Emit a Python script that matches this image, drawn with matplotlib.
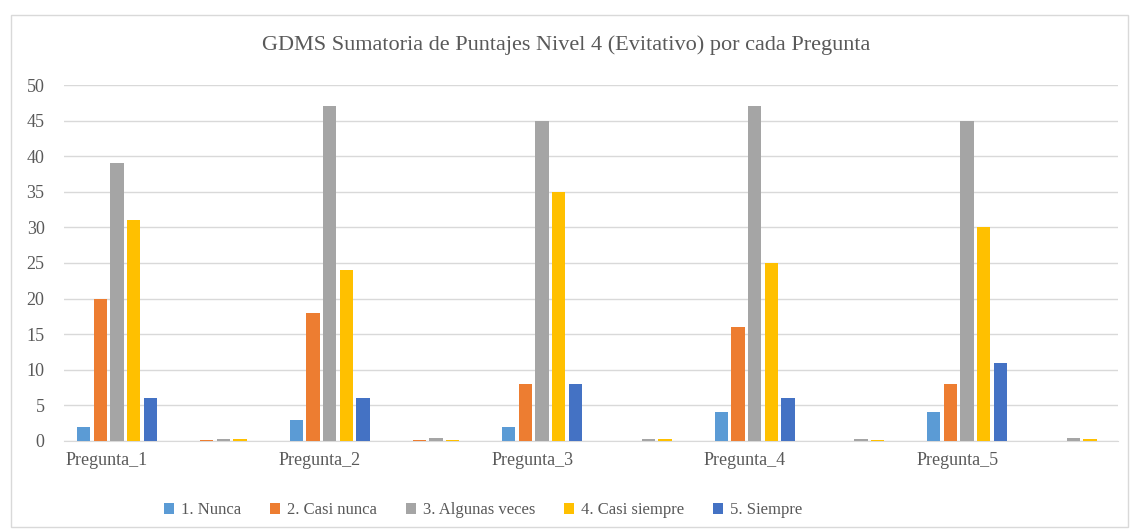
import numpy as np
import matplotlib
matplotlib.use('Agg')
import matplotlib.pyplot as plt
import matplotlib.transforms as mtransforms
from matplotlib.patches import Rectangle

plt.rcParams['font.family'] = ['Liberation Serif', 'DejaVu Serif']

categorias = ['Pregunta_1', '', 'Pregunta_2', '', 'Pregunta_3', '',
              'Pregunta_4', '', 'Pregunta_5', '']
series = ['1. Nunca', '2. Casi nunca', '3. Algunas veces', '4. Casi siempre', '5. Siempre']
nunca = [2, 0, 3, 0, 2, 0, 4, 0, 4, 0]
casi_nunca = [20, 0.2, 18, 0.1, 8, 0, 16, 0, 8, 0]
algunas = [39, 0.3, 47, 0.4, 45, 0.3, 47, 0.3, 45, 0.4]
casi_siempre = [31, 0.3, 24, 0.1, 35, 0.3, 25, 0.1, 30, 0.3]
siempre = [6, 0, 6, 0, 8, 0, 6, 0, 11, 0]
colores = ['#5B9BD5', '#ED7D31', '#A5A5A5', '#FFC000', '#4472C4']

valores = [nunca, casi_nunca, algunas, casi_siempre, siempre]

fig = plt.figure(figsize=(11.32, 5.29), dpi=100)
ax = fig.add_axes([64 / 1132, 0.1664, (1118 - 64) / 1132, 0.6729])

x = np.arange(len(categorias))
paso = 0.157
for i, (vals, col, lab) in enumerate(zip(valores, colores, series)):
    ax.bar(x + (i - 2) * paso, vals, width=0.125, color=col, linewidth=0,
           label=lab, zorder=3)

ax.set_xlim(-0.5, 9.42)
ax.set_ylim(0, 50)
ax.set_yticks(range(0, 51, 5))
ax.set_xticks(x)
ax.set_xticklabels(categorias)
ax.tick_params(axis='both', length=0, labelsize=13, colors='#595959')
ax.tick_params(axis='y', pad=14)
ax.tick_params(axis='x', pad=8)
ax.yaxis.grid(True, color='#D9D9D9', linewidth=1, zorder=0)
for s in ['top', 'right', 'left']:
    ax.spines[s].set_visible(False)
ax.spines['bottom'].set_color('#D9D9D9')

# labels sit a little left of the bar groups in the original
desplaza = mtransforms.ScaledTranslation(-0.1, 0, fig.dpi_scale_trans)
for lbl in ax.get_xticklabels():
    lbl.set_transform(lbl.get_transform() + desplaza)

fig.text(0.5, 0.915, 'GDMS Sumatoria de Puntajes Nivel 4 (Evitativo) por cada Pregunta',
         ha='center', va='center', fontsize=16, color='#595959')

handles, labels = ax.get_legend_handles_labels()
fig.legend(handles, labels, loc='center', bbox_to_anchor=(0.427, 0.035), ncol=5,
           frameon=False, fontsize=12, handlelength=0.6, handleheight=0.6,
           handletextpad=0.4, columnspacing=1.75, labelcolor='#595959')

fig.patches.append(Rectangle((11 / 1132, 2 / 529), 1117 / 1132, 512 / 529,
                             transform=fig.transFigure, fill=False,
                             edgecolor='#D9D9D9', linewidth=1))

fig.savefig('out.png', dpi=100)
